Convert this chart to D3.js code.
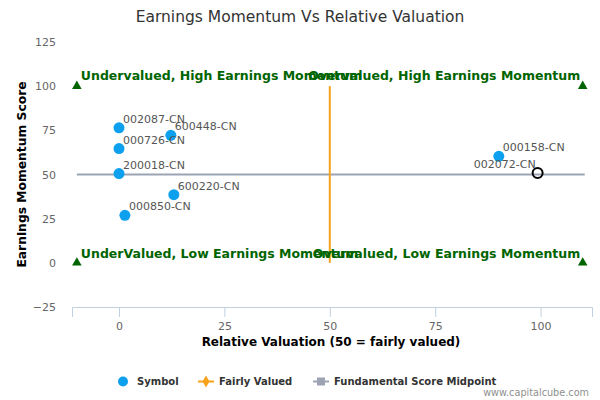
<!DOCTYPE html>
<html><head><meta charset="utf-8">
<script src="https://cdn.jsdelivr.net/npm/d3@7"></script>
<style>body{margin:0;background:#fff}svg{font-family:"DejaVu Sans",sans-serif}</style>
</head><body><svg id="c" width="600" height="400"></svg>
<script>
const symbols = ["002087-CN","600448-CN","000726-CN","200018-CN","600220-CN","000850-CN","000158-CN"];
const valuation = [0, 12.3, 0, 0, 13, 1.4, 90.1];
const momentum = [76.4, 72.2, 64.7, 50.5, 38.6, 26.9, 60.3];
const selected = {name:"002072-CN", x:99.3, y:50.9};
const quadrants = [
  {label:"Undervalued, High Earnings Momentum", x:-10, y:100, side:"left"},
  {label:"Overvalued, High Earnings Momentum", x:110, y:100, side:"right"},
  {label:"UnderValued, Low Earnings Momentum", x:-10, y:0, side:"left"},
  {label:"Overvalued, Low Earnings Momentum", x:110, y:0, side:"right"}
];
const xTicks = [0,25,50,75,100];
const yTicks = [-25,0,25,50,75,100,125];
const fairLine = {x:50, y0:0, y1:100};
const midLine = {y:50, x0:-10, x1:110};

const svg = d3.select("#c");
const x = d3.scaleLinear().domain([-11.15,112.2]).range([72,592]);
const y = d3.scaleLinear().domain([-25,125]).range([307,42]);

// title
svg.append("text").attr("x",300).attr("y",22).attr("text-anchor","middle")
  .attr("font-size",15.5).attr("fill","#333").text("Earnings Momentum Vs Relative Valuation");

// x axis
const xa = svg.append("g").attr("transform","translate(0,"+y(-25)+")")
  .call(d3.axisBottom(x).tickValues(xTicks).tickSize(10).tickPadding(5));
xa.select(".domain").attr("stroke","#C0D0E0");
xa.selectAll(".tick line").attr("stroke","#C0D0E0");
xa.selectAll(".tick text").attr("fill","#666").attr("font-size",11).attr("font-family","DejaVu Sans");
// y axis (labels only)
const ya = svg.append("g").attr("transform","translate(56,0)")
  .call(d3.axisLeft(y).tickValues(yTicks).tickSize(0).tickPadding(0));
ya.select(".domain").remove();
ya.selectAll(".tick text").attr("fill","#666").attr("font-size",11).attr("font-family","DejaVu Sans");

// axis titles
svg.append("text").attr("x",331).attr("y",346).attr("text-anchor","middle")
  .attr("font-size",12).attr("font-weight","bold").attr("fill","#000").text("Relative Valuation (50 = fairly valued)");
svg.append("text").attr("transform","translate(25.5,"+y(50)+") rotate(-90)").attr("text-anchor","middle")
  .attr("font-size",12.3).attr("font-weight","bold").attr("fill","#000").text("Earnings Momentum Score");

// midpoint line
svg.append("line").attr("x1",x(midLine.x0)).attr("x2",x(midLine.x1)+2).attr("y1",y(midLine.y)).attr("y2",y(midLine.y))
  .attr("stroke","#9CA3B3").attr("stroke-width",2);
// fair line
svg.append("line").attr("x1",x(fairLine.x)).attr("x2",x(fairLine.x)).attr("y1",y(fairLine.y0)).attr("y2",y(fairLine.y1))
  .attr("stroke","#F7A21B").attr("stroke-width",2);

// quadrant triangles & labels
const tri = d3.symbol().type(d3.symbolTriangle).size(40);
quadrants.forEach(q=>{
  svg.append("path").attr("d",tri()).attr("fill","#006400")
    .attr("transform","translate("+x(q.x)+","+y(q.y)+")");
  svg.append("text").attr("x", q.side==="left"? x(q.x)+4 : x(q.x)-2.5)
    .attr("y", y(q.y) - (q.y>50 ? 6.3 : 4.8)).attr("text-anchor", q.side==="left"?"start":"end")
    .attr("font-size",12.5).attr("font-weight","bold").attr("fill","#006400").text(q.label);
});

// points
symbols.forEach((s,i)=>{
  svg.append("circle").attr("cx",x(valuation[i])).attr("cy",y(momentum[i])).attr("r",5.5).attr("fill","#0DA0EE");
  svg.append("text").attr("x",x(valuation[i])+4).attr("y",y(momentum[i])-5)
    .attr("font-size",11).attr("fill","#555").text(s);
});
svg.append("circle").attr("cx",x(selected.x)).attr("cy",y(selected.y)).attr("r",5).attr("fill","none")
  .attr("stroke","#000").attr("stroke-width",2);
svg.append("text").attr("x",x(selected.x)-2).attr("y",y(selected.y)-5).attr("text-anchor","end")
  .attr("font-size",11).attr("fill","#555").text(selected.name);

// legend
const lg = svg.append("g").attr("font-size",10).attr("font-weight","bold").attr("fill","#333");
lg.append("circle").attr("cx",123).attr("cy",381.5).attr("r",5).attr("fill","#0DA0EE");
lg.append("text").attr("x",137).attr("y",385.2).text("Symbol");
lg.append("line").attr("x1",198).attr("x2",214).attr("y1",381.5).attr("y2",381.5).attr("stroke","#F7A21B").attr("stroke-width",2);
lg.append("path").attr("d",d3.symbol().type(d3.symbolDiamond).size(40)()).attr("fill","#F7A21B").attr("transform","translate(206,381.5)");
lg.append("text").attr("x",219).attr("y",385.2).text("Fairly Valued");
lg.append("line").attr("x1",313).attr("x2",329).attr("y1",381.5).attr("y2",381.5).attr("stroke","#9CA3B3").attr("stroke-width",2);
lg.append("rect").attr("x",317).attr("y",377.5).attr("width",8).attr("height",8).attr("fill","#9CA3B3");
lg.append("text").attr("x",334).attr("y",385.2).text("Fundamental Score Midpoint");

svg.append("text").attr("x",589).attr("y",395.5).attr("text-anchor","end").attr("font-size",9.7).attr("fill","#909090").text("www.capitalcube.com");
</script></body></html>
